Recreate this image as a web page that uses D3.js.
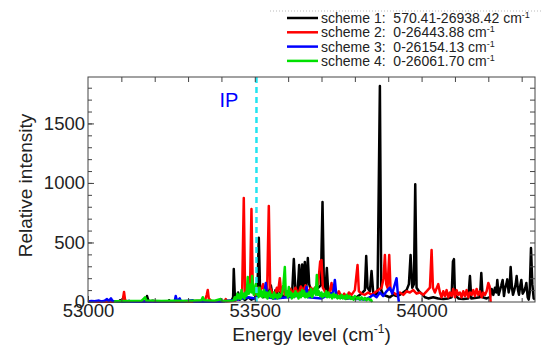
<!DOCTYPE html>
<html>
<head>
<meta charset="utf-8">
<script src="https://cdn.jsdelivr.net/npm/d3@7"></script>
<style>
  body { margin: 0; background: #fff; }
  svg { font-family: "Liberation Sans", Arial, sans-serif; }
</style>
</head>
<body>
<div id="chart"></div>
<script>
// scheme 1 (black): [energy cm-1, relative intensity]
const scheme1 = [
  [53000,2],[53040,3],[53094,4],[53096,15],[53098,3],[53150,4],[53175,6],[53177,50],[53180,20],[53183,5],
  [53195,10],[53198,3],[53241,3],[53243,15],[53246,3],[53300,4],[53380,5],[53430,10],[53435,40],[53437,277],
  [53440,60],[53445,30],[53450,80],[53455,20],[53462,60],[53470,15],[53480,40],[53490,20],[53500,30],[53508,100],[53512,540],[53516,80],
  [53525,40],[53532,120],[53540,60],[53548,140],[53555,30],[53562,100],[53570,50],[53578,90],[53585,40],[53600,60],[53612,80],[53617,361],[53622,90],[53628,60],
  [53633,310],[53637,80],[53642,315],[53646,120],[53650,335],[53654,100],[53659,370],[53663,150],[53670,80],[53680,100],
  [53690,120],[53698,140],[53703,840],[53707,150],[53712,100],[53716,286],[53720,90],[53730,60],[53745,50],[53760,40],
  [53775,30],[53790,40],[53800,30],[53810,50],[53820,70],[53830,100],[53834,386],[53838,120],[53845,90],[53850,260],
  [53855,80],[53862,60],[53868,80],[53875,1815],[53879,100],[53885,60],[53895,50],[53905,40],[53915,60],[53925,50],
  [53935,60],[53945,80],[53955,100],[53962,150],[53967,395],[53972,120],[53977,150],[53981,990],[53985,120],[53992,90],
  [54000,70],[54010,40],[54020,30],[54035,40],[54050,30],[54065,25],[54080,30],[54090,40],[54094,340],[54097,360],
  [54100,60],[54110,30],[54125,25],[54140,30],[54145,218],[54149,30],[54165,35],[54175,40],[54179,244],[54183,40],
  [54195,30],[54205,40],[54210,110],[54215,60],[54220,120],[54224,80],[54227,185],[54231,60],[54235,100],[54239,140],
  [54243,185],[54247,50],[54250,110],[54254,150],[54257,190],[54261,80],[54264,120],[54267,294],[54271,120],[54274,60],
  [54278,100],[54282,150],[54285,218],[54289,100],[54292,60],[54296,140],[54299,185],[54303,70],[54307,90],[54311,120],
  [54314,160],[54318,40],[54321,20],[54324,80],[54328,454],[54332,150],[54336,30],[54340,20]
];
// scheme 2 (red)
const scheme2 = [
  [53000,3],[53050,4],[53100,5],[53105,30],[53108,84],[53111,20],[53115,4],[53200,5],[53300,6],[53350,10],
  [53356,60],[53359,100],[53362,30],[53370,8],[53410,6],[53413,25],[53416,6],[53440,10],[53455,30],[53462,60],
  [53467,874],[53471,60],[53478,80],[53486,150],[53490,782],[53494,100],[53500,60],[53510,120],[53515,80],[53525,150],
  [53530,70],[53537,100],[53542,807],[53546,120],[53552,80],[53560,60],[53566,120],[53570,90],[53575,200],[53579,80],[53585,130],[53590,60],
  [53600,50],[53607,110],[53615,70],[53622,120],[53630,60],[53638,130],[53645,90],[53652,140],[53660,80],[53668,120],[53675,100],[53690,150],[53696,340],[53700,353],[53704,120],
  [53712,80],[53722,60],[53730,160],[53735,60],[53745,50],[53752,90],[53760,40],[53768,70],[53775,30],[53782,80],[53790,60],[53800,100],[53808,310],
  [53812,90],[53820,70],[53830,60],[53840,80],[53850,60],[53860,80],[53870,100],[53880,120],[53886,200],[53890,395],
  [53894,150],[53898,120],[53903,395],[53907,100],[53915,80],[53925,60],[53935,80],[53945,60],[53955,90],[53965,80],
  [53975,100],[53985,70],[53995,80],[54005,60],[54015,90],[54025,120],[54030,437],[54034,120],[54040,80],[54050,150],
  [54055,80],[54060,40],[54065,90],[54070,50],[54075,100],[54080,40],[54085,80],[54090,50],[54095,110],[54100,40],
  [54105,100],[54110,60],[54115,80],[54120,40],[54125,90],[54130,50],[54135,100],[54140,40],[54145,80],[54150,60],
  [54155,100],[54160,50],[54165,110],[54170,60],[54175,90],[54180,40],[54185,80],[54190,60],[54195,90],[54200,160],
  [54204,130],[54207,0]
];
// scheme 3 (blue)
const scheme3 = [
  [53000,5],[53010,8],[53020,6],[53033,12],[53040,5],[53050,10],[53057,25],[53062,8],[53069,30],[53073,10],
  [53080,5],[53120,4],[53123,10],[53126,3],[53200,4],[53260,6],[53263,50],[53267,8],[53275,30],[53279,5],
  [53314,15],[53318,4],[53400,5],[53450,20],[53480,40],[53500,30],[53515,60],[53529,80],[53533,160],[53537,40],
  [53560,30],[53600,40],[53650,60],[53655,126],[53660,40],[53700,30],[53735,80],[53740,185],[53745,40],[53790,30],
  [53830,20],[53845,40],[53855,60],[53865,40],[53875,80],[53885,50],[53895,90],[53905,120],[53912,70],[53918,130],
  [53925,200],[53929,60],[53932,0]
];
// scheme 4 (green)
const scheme4 = [
  [53078,3],[53085,6],[53120,8],[53160,10],[53168,30],[53171,40],[53175,12],[53220,8],[53260,10],[53300,8],
  [53340,15],[53344,40],[53348,15],[53380,10],[53398,25],[53402,8],[53436,10],[53440,40],[53444,20],[53448,70],
  [53452,30],[53455,60],[53458,25],[53460,100],[53463,40],[53466,70],[53469,30],[53472,80],[53475,50],[53479,210],
  [53482,70],[53485,110],[53488,150],[53490,80],[53492,218],[53495,90],[53497,60],[53500,120],[53503,150],[53506,60],
  [53509,100],[53511,40],[53514,120],[53517,50],[53520,90],[53523,40],[53526,70],[53528,100],[53531,40],[53535,80],
  [53538,30],[53541,70],[53545,90],[53548,40],[53552,60],[53555,30],[53558,80],[53561,40],[53565,60],[53568,30],
  [53572,70],[53576,40],[53580,60],[53583,90],[53586,150],[53590,294],[53593,60],[53596,90],[53599,40],[53602,126],
  [53605,50],[53608,80],[53611,30],[53615,70],[53618,40],[53622,90],[53625,50],[53628,70],[53631,30],[53635,80],
  [53638,40],[53642,100],[53645,50],[53648,90],[53651,40],[53655,70],[53658,40],[53662,80],[53665,50],[53669,110],
  [53672,40],[53676,80],[53680,120],[53683,60],[53686,227],[53689,60],[53692,90],[53696,50],[53700,80],[53703,40],
  [53707,70],[53710,50],[53714,90],[53717,40],[53721,80],[53724,40],[53728,60],[53732,30],[53736,70],[53740,40],
  [53744,60],[53748,30],[53752,50],[53756,30],[53760,60],[53764,30],[53768,50],[53772,25],[53776,60],[53780,30],
  [53784,50],[53788,25],[53792,40],[53796,20],[53800,50],[53805,25],[53810,40],[53815,20],[53820,40],[53825,20],
  [53830,35],[53835,15],[53840,30],[53845,15],[53848,20],[53852,0]
];

const seriesNames = ['scheme 1:  570.41-26938.42 cm', 'scheme 2:  0-26443.88 cm', 'scheme 3:  0-26154.13 cm', 'scheme 4:  0-26061.70 cm'];
const seriesColors = ['#000000', '#ff0000', '#0000ff', '#00e000'];
const seriesData = [scheme1, scheme2, scheme3, scheme4];
const xTicks = [53000, 53500, 54000];
const yTicks = [0, 500, 1000, 1500];
const ionizationPotential = 53505;

const width = 543, height = 347;
const margin = { top: 77, right: 8, bottom: 45, left: 88 };
const innerW = width - margin.left - margin.right;
const innerH = height - margin.top - margin.bottom;

const svg = d3.select('#chart').append('svg')
  .attr('width', width)
  .attr('height', height);

const x = d3.scaleLinear().domain([53000, 54340]).range([0, innerW]);
const y = d3.scaleLinear().domain([0, 1890]).range([innerH, 0]);

const g = svg.append('g')
  .attr('transform', `translate(${margin.left},${margin.top})`);

g.append('defs').append('clipPath').attr('id', 'clip')
  .append('rect').attr('width', innerW).attr('height', innerH + 2).attr('y', -1);

// spectra
const line = d3.line().x(d => x(d[0])).y(d => y(d[1]));
const plot = g.append('g').attr('clip-path', 'url(#clip)');
seriesData.forEach((s, i) => {
  plot.append('path')
    .datum(s)
    .attr('fill', 'none')
    .attr('stroke', seriesColors[i])
    .attr('stroke-width', 2.5)
    .attr('stroke-linejoin', 'round')
    .attr('d', line);
});

// IP line
g.append('line')
  .attr('x1', x(ionizationPotential)).attr('x2', x(ionizationPotential))
  .attr('y1', 0).attr('y2', innerH)
  .attr('stroke', '#22e5f0')
  .attr('stroke-width', 2.5)
  .attr('stroke-dasharray', '6,4');

g.append('text')
  .attr('x', x(ionizationPotential) - 37)
  .attr('y', 30)
  .attr('fill', '#0000ff')
  .style('font-size', '20px')
  .text('IP');

// frame
g.append('rect')
  .attr('width', innerW).attr('height', innerH)
  .attr('fill', 'none').attr('stroke', '#444').attr('stroke-width', 1);

const minorX = d3.range(53100, 54340, 100);
const minorY = d3.range(100, 1890, 100);

function styleAxis(sel) {
  sel.select('.domain').remove();
  sel.selectAll('line').attr('stroke', '#444');
  sel.selectAll('text').style('font-size', '18.5px').attr('fill', '#222');
}

g.append('g').attr('transform', `translate(0,${innerH})`)
  .call(d3.axisBottom(x).tickValues(xTicks).tickSize(-6).tickPadding(2).tickFormat(d3.format('d')))
  .call(styleAxis);
g.append('g').attr('transform', `translate(0,${innerH})`)
  .call(d3.axisBottom(x).tickValues(minorX).tickSize(-4).tickFormat(''))
  .call(styleAxis);
g.append('g')
  .call(d3.axisTop(x).tickValues(minorX).tickSize(-5).tickFormat(''))
  .call(styleAxis);
g.append('g')
  .call(d3.axisLeft(y).tickValues(yTicks).tickSize(-6).tickPadding(3).tickFormat(d3.format('d')))
  .call(styleAxis);
g.append('g')
  .call(d3.axisLeft(y).tickValues(minorY).tickSize(-4).tickFormat(''))
  .call(styleAxis);
g.append('g').attr('transform', `translate(${innerW},0)`)
  .call(d3.axisRight(y).tickValues(minorY).tickSize(-5).tickFormat(''))
  .call(styleAxis);

// axis titles
const xTitle = svg.append('text')
  .attr('x', margin.left + innerW / 2)
  .attr('y', 341)
  .attr('text-anchor', 'middle')
  .attr('fill', '#222')
  .style('font-size', '19px');
xTitle.append('tspan').text('Energy level (cm');
xTitle.append('tspan').attr('dy', -8).style('font-size', '12px').text('-1');
xTitle.append('tspan').attr('dy', 8).text(')');

svg.append('text')
  .attr('transform', `translate(32,${margin.top + innerH / 2 - 4}) rotate(-90)`)
  .attr('text-anchor', 'middle')
  .attr('fill', '#222')
  .style('font-size', '19px')
  .text('Relative intensity');

// legend
svg.append('line')
  .attr('x1', 270).attr('x2', 543).attr('y1', 11).attr('y2', 11)
  .attr('stroke', '#bbb').attr('stroke-dasharray', '1,2');

const legend = svg.append('g');
seriesNames.forEach((name, i) => {
  const ly = 18 + i * 14.3;
  legend.append('line')
    .attr('x1', 287).attr('x2', 318).attr('y1', ly).attr('y2', ly)
    .attr('stroke', seriesColors[i]).attr('stroke-width', 2.5);
  const t = legend.append('text')
    .attr('x', 321).attr('y', ly + 5)
    .attr('fill', '#222')
    .style('font-size', '14px')
    .style('white-space', 'pre')
    .attr('xml:space', 'preserve');
  t.append('tspan').text(name);
  t.append('tspan').attr('dy', -5).style('font-size', '9px').text('-1');
});
</script>
</body>
</html>
